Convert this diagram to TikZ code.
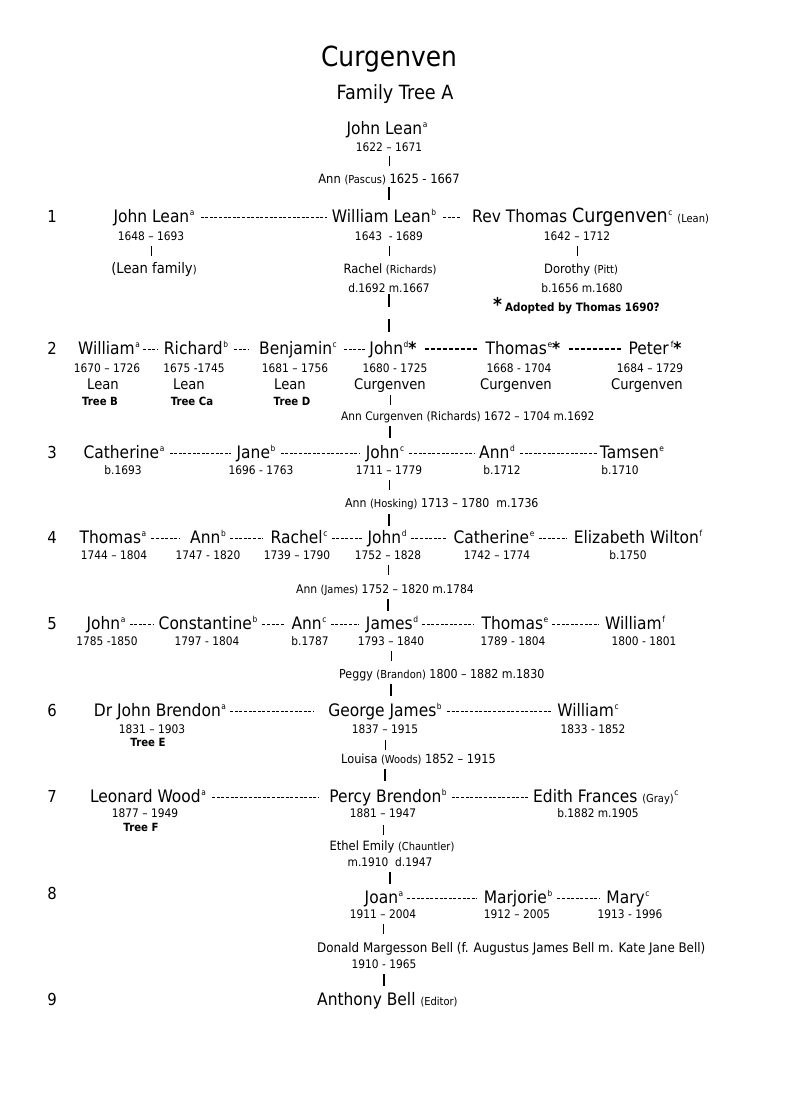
\documentclass[tikz,border=0pt]{standalone}
\usepackage{fontspec}
\setmainfont{DejaVu Sans}[FakeStretch=0.9]
\usetikzlibrary{calc}
\newcommand\sx[1]{\hspace{0.6pt}\raisebox{6.2pt}{\fontsize{8.3}{8.3}\selectfont #1}}
\newcommand\pn[1]{{\fontsize{11}{12}\selectfont #1}}
\newcommand\fs[1]{\fontsize{#1}{#1}\selectfont}
\begin{document}
\begin{tikzpicture}[x=1pt,y=-1pt,
  every node/.style={inner sep=0pt,anchor=base},
  ttl/.style={font=\fs{27.7}},
  sttl/.style={font=\fs{19.6}},
  nm/.style={font=\fs{17.2}},
  dt/.style={font=\fs{11.8}},
  sp/.style={font=\fs{12.8}},
  sps/.style={font=\fs{11.8}},
  ln/.style={font=\fs{14.6}},
  tr/.style={font=\fs{11.3}\bfseries},
  gen/.style={font=\fs{16.5}},
  dl/.style={dash pattern=on 3pt off 1.6pt,line width=0.7pt},
  dlb/.style={dash pattern=on 4pt off 2pt,line width=1.6pt},
  thinbar/.style={line width=0.8pt},
  boldbar/.style={line width=2pt}]
\useasboundingbox[fill=white] (0,0) rectangle (800,1101);

% title
\node[ttl] (title) at (389,66) {Curgenven};
\node[sttl] (subtitle) at (395,99) {Family Tree A};

% generation 0
\node[nm] (n0) at (387,134) {John Lean\sx{a}};
\node[dt] (d0) at (389,151) {1622 – 1671};
\node[sp] (s0) at (389,183) {Ann \pn{(Pascus)} 1625 - 1667};

% row 1
\node[gen] (g1) at (52,222) {1};
\node[nm] (r1a) at (154,222) {John Lean\sx{a}};
\node[nm] (r1b) at (384,222) {William Lean\sx{b}};
\node[nm,anchor=base west] (r1c) at (472,222) {Rev Thomas {\fs{19.5}Curgenven}\sx{c} \pn{(Lean)}};
\node[dt] (d1a) at (151,240) {1648 – 1693};
\node[dt] (d1b) at (389,240) {1643 \ - 1689};
\node[dt] (d1c) at (577,240) {1642 – 1712};
\node[ln] (s1a) at (154,273) {(Lean family\pn{)}};
\node[sp] (s1b) at (390,273) {Rachel \pn{(Richards)}};
\node[sp] (s1c) at (581,273) {Dorothy \pn{(Pitt)}};
\node[dt] (m1b) at (389,292) {d.1692 m.1667};
\node[dt] (m1c) at (582,292) {b.1656 m.1680};
\node[anchor=base west] (adopt) at (493,311) {{\fs{19}\bfseries *}\hspace{3pt}{\fs{11.5}\bfseries Adopted by Thomas 1690?}};

% row 2
\node[gen] (g2) at (52,354) {2};
\node[nm] (r2a) at (109,354) {William\sx{a}};
\node[nm] (r2b) at (196,354) {Richard\sx{b}};
\node[nm] (r2c) at (298,354) {Benjamin\sx{c}};
\node[nm] (r2d) at (393,354) {John\sx{d}\textbf{*}};
\node[nm] (r2e) at (523,354) {Thomas\sx{e}\textbf{*}};
\node[nm] (r2f) at (655,354) {Peter\sx{\,f}\textbf{*}};
\node[dt] (d2a) at (107,372) {1670 – 1726};
\node[dt] (d2b) at (194,372) {1675 -1745};
\node[dt] (d2c) at (295,372) {1681 – 1756};
\node[dt] (d2d) at (395,372) {1680 - 1725};
\node[dt] (d2e) at (519,372) {1668 - 1704};
\node[dt] (d2f) at (650,372) {1684 – 1729};
\node[ln] (l2a) at (103,389) {Lean};
\node[ln] (l2b) at (189,389) {Lean};
\node[ln] (l2c) at (290,389) {Lean};
\node[ln] (l2d) at (390,389) {Curgenven};
\node[ln] (l2e) at (516,389) {Curgenven};
\node[ln] (l2f) at (647,389) {Curgenven};
\node[tr] (t2a) at (100,405) {Tree B};
\node[tr] (t2b) at (192,405) {Tree Ca};
\node[tr] (t2c) at (292,405) {Tree D};
\node[sps,anchor=base west] (s2) at (341,420) {Ann Curgenven (Richards) 1672 – 1704 m.1692};

% row 3
\node[gen] (g3) at (52,458) {3};
\node[nm] (r3a) at (124,458) {Catherine\sx{a}};
\node[nm] (r3b) at (256,458) {Jane\sx{b}};
\node[nm] (r3c) at (385,458) {John\sx{c}};
\node[nm] (r3d) at (497,458) {Ann\sx{d}};
\node[nm] (r3e) at (632,458) {Tamsen\sx{e}};
\node[dt] (d3a) at (123,474) {b.1693};
\node[dt] (d3b) at (261,474) {1696 - 1763};
\node[dt] (d3c) at (389,474) {1711 – 1779};
\node[dt] (d3d) at (502,474) {b.1712};
\node[dt] (d3e) at (620,474) {b.1710};
\node[sps,anchor=base west,font=\fs{12.2}] (s3) at (345,507) {Ann \pn{(Hosking)} 1713 – 1780 \ m.1736};

% row 4
\node[gen] (g4) at (52,543) {4};
\node[nm] (r4a) at (113,543) {Thomas\sx{a}};
\node[nm] (r4b) at (208,543) {Ann\sx{b}};
\node[nm] (r4c) at (299,543) {Rachel\sx{c}};
\node[nm] (r4d) at (387,543) {John\sx{d}};
\node[nm] (r4e) at (494,543) {Catherine\sx{e}};
\node[nm] (r4f) at (638,543) {Elizabeth Wilton\sx{f}};
\node[dt] (d4a) at (114,559) {1744 – 1804};
\node[dt] (d4b) at (208,559) {1747 - 1820};
\node[dt] (d4c) at (297,559) {1739 – 1790};
\node[dt] (d4d) at (388,559) {1752 – 1828};
\node[dt] (d4e) at (497,559) {1742 – 1774};
\node[dt] (d4f) at (628,559) {b.1750};
\node[sps,anchor=base west,font=\fs{12}] (s4) at (296,593) {Ann \pn{(James)} 1752 – 1820 m.1784};

% row 5
\node[gen] (g5) at (52,629) {5};
\node[nm] (r5a) at (106,629) {John\sx{a}};
\node[nm] (r5b) at (208,629) {Constantine\sx{b}};
\node[nm] (r5c) at (309,629) {Ann\sx{c}};
\node[nm] (r5d) at (392,629) {James\sx{d}};
\node[nm] (r5e) at (515,629) {Thomas\sx{e}};
\node[nm] (r5f) at (635,629) {William\sx{f}};
\node[dt] (d5a) at (107,645) {1785 -1850};
\node[dt] (d5b) at (207,645) {1797 - 1804};
\node[dt] (d5c) at (310,645) {b.1787};
\node[dt] (d5d) at (391,645) {1793 – 1840};
\node[dt] (d5e) at (513,645) {1789 - 1804};
\node[dt] (d5f) at (644,645) {1800 - 1801};
\node[sps,anchor=base west,font=\fs{12.3}] (s5) at (339,678) {Peggy \pn{(Brandon)} 1800 – 1882 m.1830};

% row 6
\node[gen] (g6) at (52,716) {6};
\node[nm] (r6a) at (160,716) {Dr John Brendon\sx{a}};
\node[nm] (r6b) at (385,716) {George James\sx{b}};
\node[nm] (r6c) at (588,716) {William\sx{c}};
\node[dt] (d6a) at (152,733) {1831 – 1903};
\node[dt] (d6b) at (385,733) {1837 – 1915};
\node[dt] (d6c) at (593,733) {1833 - 1852};
\node[tr] (t6a) at (148,746) {Tree E};
\node[sps,anchor=base west,font=\fs{12.6}] (s6) at (341,763) {Louisa \pn{(Woods)} 1852 – 1915};

% row 7
\node[gen] (g7) at (52,802) {7};
\node[nm] (r7a) at (148,802) {Leonard Wood\sx{a}};
\node[nm] (r7b) at (388,802) {Percy Brendon\sx{b}};
\node[nm,anchor=base west] (r7c) at (533,802) {Edith Frances \pn{(Gray)}\sx{c}};
\node[dt] (d7a) at (145,817) {1877 – 1949};
\node[dt] (d7b) at (383,817) {1881 – 1947};
\node[dt] (d7c) at (598,817) {b.1882 m.1905};
\node[tr] (t7a) at (141,831) {Tree F};
\node[sps,font=\fs{12.8}] (s7) at (392,850) {Ethel Emily \pn{(Chauntler)}};
\node[dt] (m7) at (390,866) {m.1910 \ d.1947};

% row 8
\node[gen] (g8) at (52,899) {8};
\node[nm] (r8a) at (384,903) {Joan\sx{a}};
\node[nm] (r8b) at (518,903) {Marjorie\sx{b}};
\node[nm] (r8c) at (628,903) {Mary\sx{c}};
\node[dt] (d8a) at (383,918) {1911 – 2004};
\node[dt] (d8b) at (517,918) {1912 – 2005};
\node[dt] (d8c) at (630,918) {1913 - 1996};
\node[sps,anchor=base west,font=\fs{13.2}] (s8) at (317,952) {Donald Margesson Bell (f. Augustus James Bell m. Kate Jane Bell)};
\node[dt] (m8) at (384,968) {1910 - 1965};

% row 9
\node[gen] (g9) at (52,1005) {9};
\node[nm,anchor=base west] (r9) at (317,1005) {Anthony Bell \pn{(Editor)}};

% ---- horizontal dashed connectors
\draw[dl,shorten <=6pt,shorten >=5pt] ([yshift=5pt]r1a.base east) -- ([yshift=5pt]r1b.base west);
\draw[dl,shorten <=7pt,shorten >=11pt] ([yshift=5pt]r1b.base east) -- ([yshift=5pt]r1c.base west);

\draw[dl,shorten <=3pt,shorten >=6pt] ([yshift=5pt]r2a.base east) -- ([yshift=5pt]r2b.base west);
\draw[dl,shorten <=6pt,shorten >=10pt] ([yshift=5pt]r2b.base east) -- ([yshift=5pt]r2c.base west);
\draw[dl,shorten <=7pt,shorten >=3pt] ([yshift=5pt]r2c.base east) -- ([yshift=5pt]r2d.base west);
\draw[dlb,shorten <=8pt,shorten >=7pt] ([yshift=5pt]r2d.base east) -- ([yshift=5pt]r2e.base west);
\draw[dlb,shorten <=8pt,shorten >=7pt] ([yshift=5pt]r2e.base east) -- ([yshift=5pt]r2f.base west);

\draw[dl,shorten <=5pt,shorten >=5pt] ([yshift=5pt]r3a.base east) -- ([yshift=5pt]r3b.base west);
\draw[dl,shorten <=5pt,shorten >=6pt] ([yshift=5pt]r3b.base east) -- ([yshift=5pt]r3c.base west);
\draw[dl,shorten <=5pt,shorten >=5pt] ([yshift=5pt]r3c.base east) -- ([yshift=5pt]r3d.base west);
\draw[dl,shorten <=5pt,shorten >=3pt] ([yshift=5pt]r3d.base east) -- ([yshift=5pt]r3e.base west);

\draw[dl,shorten <=5pt,shorten >=10pt] ([yshift=5pt]r4a.base east) -- ([yshift=5pt]r4b.base west);
\draw[dl,shorten <=4pt,shorten >=7pt] ([yshift=5pt]r4b.base east) -- ([yshift=5pt]r4c.base west);
\draw[dl,shorten <=4pt,shorten >=4pt] ([yshift=5pt]r4c.base east) -- ([yshift=5pt]r4d.base west);
\draw[dl,shorten <=4pt,shorten >=7pt] ([yshift=5pt]r4d.base east) -- ([yshift=5pt]r4e.base west);
\draw[dl,shorten <=4pt,shorten >=7pt] ([yshift=5pt]r4e.base east) -- ([yshift=5pt]r4f.base west);

\draw[dl,shorten <=4pt,shorten >=5pt] ([yshift=5pt]r5a.base east) -- ([yshift=5pt]r5b.base west);
\draw[dl,shorten <=5pt,shorten >=6pt] ([yshift=5pt]r5b.base east) -- ([yshift=5pt]r5c.base west);
\draw[dl,shorten <=4pt,shorten >=7pt] ([yshift=5pt]r5c.base east) -- ([yshift=5pt]r5d.base west);
\draw[dl,shorten <=4pt,shorten >=8pt] ([yshift=5pt]r5d.base east) -- ([yshift=5pt]r5e.base west);
\draw[dl,shorten <=4pt,shorten >=6pt] ([yshift=5pt]r5e.base east) -- ([yshift=5pt]r5f.base west);

\draw[dl,shorten <=4pt,shorten >=14pt] ([yshift=5pt]r6a.base east) -- ([yshift=5pt]r6b.base west);
\draw[dl,shorten <=5pt,shorten >=5pt] ([yshift=5pt]r6b.base east) -- ([yshift=5pt]r6c.base west);

\draw[dl,shorten <=6pt,shorten >=11pt] ([yshift=5pt]r7a.base east) -- ([yshift=5pt]r7b.base west);
\draw[dl,shorten <=5pt,shorten >=5pt] ([yshift=5pt]r7b.base east) -- ([yshift=5pt]r7c.base west);

\draw[dl,shorten <=4pt,shorten >=7pt] ([yshift=5pt]r8a.base east) -- ([yshift=5pt]r8b.base west);
\draw[dl,shorten <=5pt,shorten >=6pt] ([yshift=5pt]r8b.base east) -- ([yshift=5pt]r8c.base west);

% ---- vertical connectors
% gen 0
\draw[thinbar] ($(d0.base)+(0,5)$) -- ($(d0.base |- s0.base)+(0,-17)$);
\draw[boldbar] ($(d0.base |- s0.base)+(0,4)$) -- ($(d0.base |- r1b.base)+(0,-22)$);
% row 1
\draw[thinbar] ($(d1a.base)+(0,6)$) -- ($(d1a.base |- s1a.base)+(0,-17)$);
\draw[thinbar] ($(d1b.base)+(0,6)$) -- ($(d1b.base |- s1b.base)+(0,-17)$);
\draw[thinbar] ($(d1c.base)+(0,6)$) -- ($(d1c.base |- s1c.base)+(0,-17)$);
\draw[boldbar,dash pattern=on 13pt off 12pt] ($(d1b.base |- m1b.base)+(0,2)$) -- ($(d1b.base |- r2d.base)+(0,-22)$);
% row 2
\draw[thinbar] ($(l2d.base)+(0,6)$) -- ($(l2d.base |- s2.base)+(0,-15)$);
\draw[boldbar] ($(l2d.base |- s2.base)+(0,6)$) -- ($(l2d.base |- r3c.base)+(0,-20)$);
% row 3
\draw[thinbar] ($(d3c.base)+(0,6)$) -- ($(d3c.base |- s3.base)+(0,-17)$);
\draw[boldbar] ($(d3c.base |- s3.base)+(0,7)$) -- ($(d3c.base |- r4d.base)+(0,-17)$);
% row 4
\draw[thinbar] ($(d4d.base)+(0,6)$) -- ($(d4d.base |- s4.base)+(0,-18)$);
\draw[boldbar] ($(d4d.base |- s4.base)+(0,6)$) -- ($(d4d.base |- r5d.base)+(0,-18)$);
% row 5
\draw[thinbar] ($(d5d.base)+(0,6)$) -- ($(d5d.base |- s5.base)+(0,-17)$);
\draw[boldbar] ($(d5d.base |- s5.base)+(0,6)$) -- ($(d5d.base |- r6b.base)+(0,-20)$);
% row 6
\draw[thinbar] ($(d6b.base)+(0,7)$) -- ($(d6b.base |- s6.base)+(0,-13)$);
\draw[boldbar] ($(d6b.base |- s6.base)+(0,6)$) -- ($(d6b.base |- r7b.base)+(0,-21)$);
% row 7
\draw[thinbar] ($(d7b.base)+(0,8)$) -- ($(d7b.base |- s7.base)+(0,-15)$);
\draw[boldbar] ($(m7.base)+(0,6)$) -- ($(m7.base |- r8a.base)+(0,-19)$);
% row 8
\draw[thinbar] ($(d8a.base)+(0,6)$) -- ($(d8a.base |- s8.base)+(0,-18)$);
\draw[boldbar] ($(m8.base)+(0,6)$) -- ($(m8.base |- r9.base)+(0,-19)$);
\end{tikzpicture}
\end{document}
